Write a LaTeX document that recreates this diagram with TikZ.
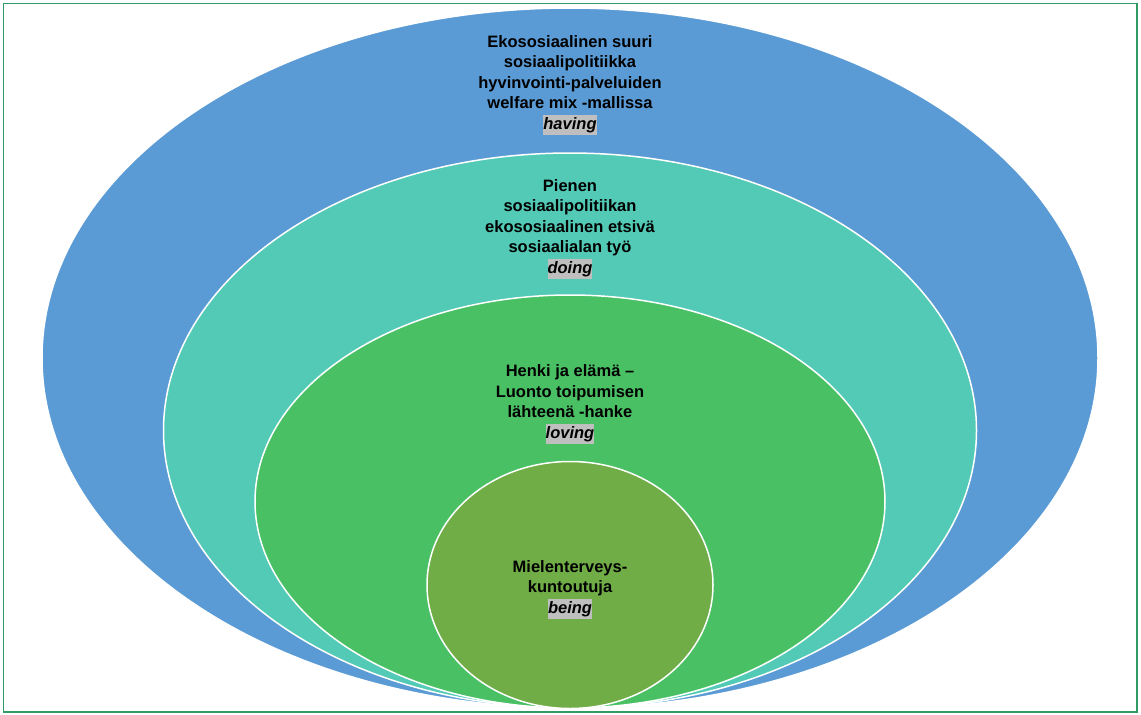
\documentclass[tikz,border=0pt]{standalone}
\usepackage{fontspec}
\setmainfont{Liberation Sans}
\usetikzlibrary{shapes.geometric}
\definecolor{havingblue}{RGB}{91,155,213}
\definecolor{doingteal}{RGB}{82,202,182}
\definecolor{lovinggreen}{RGB}{74,192,100}
\definecolor{beingolive}{RGB}{112,173,71}
\definecolor{framegreen}{RGB}{48,155,100}
\definecolor{markgray}{RGB}{191,191,191}
\newcommand\tagword[1]{{\setlength\fboxsep{0pt}\colorbox{markgray}{\strut\itshape #1}}}
\begin{document}
\begin{tikzpicture}[x=1pt,y=-1pt,
  ring/.style={ellipse,draw=white,line width=1.5pt,inner sep=0pt},
  words/.style={align=center,anchor=base,inner sep=0pt,
    font=\fontsize{16.5}{20.5}\selectfont\bfseries}]
  \useasboundingbox (0,0) rectangle (1141,715);
  \draw[framegreen,line width=1.2pt] (3.5,3.5) rectangle (1137,712);
  \node[ring,fill=havingblue,minimum width=1056pt,minimum height=700pt] (having) at (570,358) {};
  \node[ring,fill=doingteal,minimum width=813pt,minimum height=555pt] (doing) at (570,430.5) {};
  \node[ring,fill=lovinggreen,minimum width=630pt,minimum height=413pt] (loving) at (570,501.5) {};
  \node[ring,fill=beingolive,minimum width=286pt,minimum height=247pt] (being) at (570,585) {};
  \node[words] (havingtext) at (570,129) {Ekososiaalinen suuri\\sosiaalipolitiikka\\hyvinvointi-palveluiden\\welfare mix -mallissa\\\tagword{having}};
  \node[words] (doingtext) at (570,273) {Pienen\\sosiaalipolitiikan\\ekososiaalinen etsivä\\sosiaalialan työ\\\tagword{doing}};
  \node[words] (lovingtext) at (570,438) {Henki ja elämä –\\Luonto toipumisen\\lähteenä -hanke\\\tagword{loving}};
  \node[words] (beingtext) at (570,613) {Mielenterveys-\\kuntoutuja\\\tagword{being}};
\end{tikzpicture}
\end{document}
